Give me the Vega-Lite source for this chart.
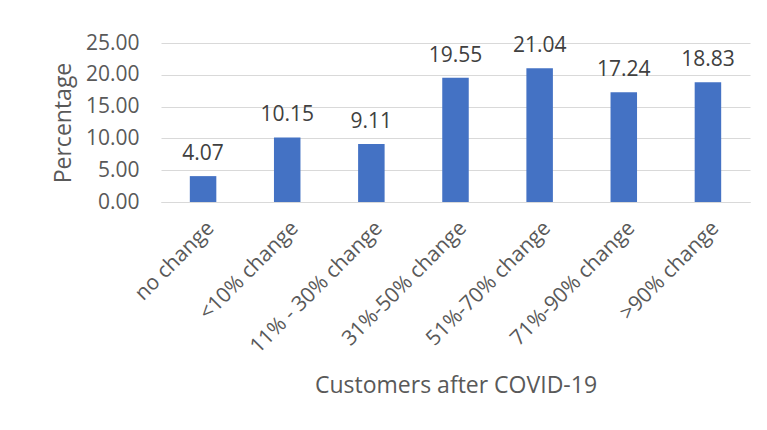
{
  "$schema": "https://vega.github.io/schema/vega-lite/v6.json",
  "width": 589,
  "height": 159,
  "autosize": {"type": "none"},
  "padding": {"left": 161, "top": 43, "right": 17, "bottom": 228},
  "background": "white",
  "config": {
    "view": {"stroke": null},
    "font": "Open Sans",
    "axis": {
      "labelColor": "#595959",
      "titleColor": "#595959",
      "labelFont": "Open Sans",
      "titleFont": "Open Sans",
      "titleFontWeight": "normal",
      "ticks": false,
      "domain": false
    }
  },
  "data": {
    "values": [
      {"category": "no change", "value": 4.07},
      {"category": "<10% change", "value": 10.15},
      {"category": "11% - 30% change", "value": 9.11},
      {"category": "31%-50% change", "value": 19.55},
      {"category": "51%-70% change", "value": 21.04},
      {"category": "71%-90% change", "value": 17.24},
      {"category": ">90% change", "value": 18.83}
    ]
  },
  "encoding": {
    "x": {
      "field": "category",
      "type": "nominal",
      "sort": null,
      "scale": {"paddingInner": 0.685, "paddingOuter": 0.3425},
      "axis": {
        "title": "Customers after COVID-19",
        "labelAngle": -45,
        "labelFontSize": 21,
        "labelPadding": 15,
        "titleFontSize": 23,
        "titlePadding": 18,
        "grid": false,
        "domain": true,
        "domainColor": "#d9d9d9"
      }
    },
    "y": {
      "field": "value",
      "type": "quantitative",
      "scale": {"domain": [0, 25]},
      "axis": {
        "title": "Percentage",
        "format": ".2f",
        "values": [0, 5, 10, 15, 20, 25],
        "labelFontSize": 21,
        "labelPadding": 22,
        "titleFontSize": 23,
        "titlePadding": 10,
        "grid": true,
        "gridColor": "#d9d9d9"
      }
    }
  },
  "layer": [
    {"mark": {"type": "bar", "color": "#4472C4"}},
    {
      "mark": {"type": "text", "baseline": "alphabetic", "dy": -16, "fontSize": 21, "color": "#404040"},
      "encoding": {"text": {"field": "value", "type": "quantitative", "format": ".2f"}}
    }
  ]
}
